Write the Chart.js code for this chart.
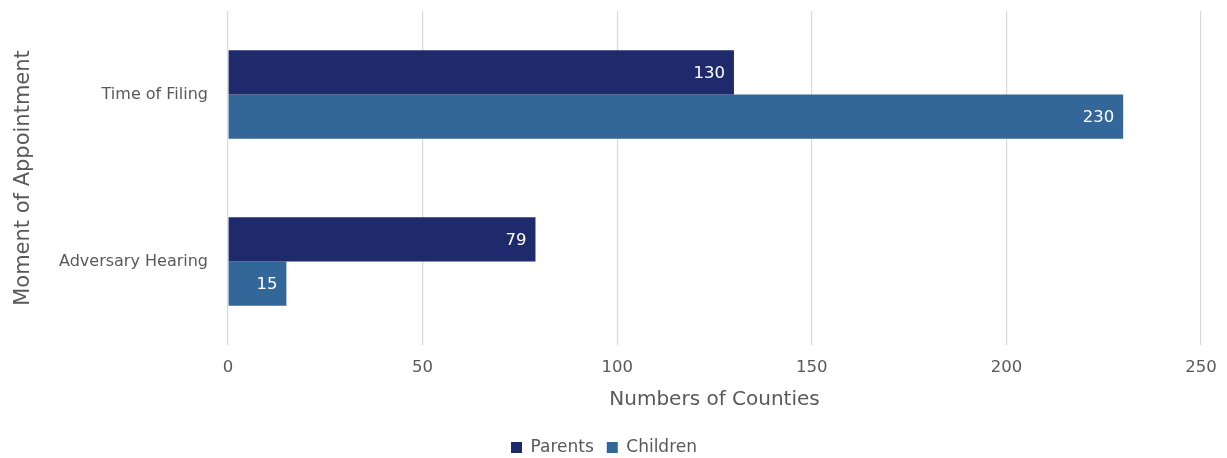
<!DOCTYPE html>
<html>
<head>
<meta charset="utf-8">
<script src="https://cdn.jsdelivr.net/npm/chart.js@4"></script>
<style>
  body { margin: 0; background: #fff; }
  #wrap { width: 1227px; height: 458px; }
</style>
</head>
<body>
<div id="wrap"><canvas id="grafico" width="1227" height="458"></canvas></div>
<script>
// Dados do gráfico
const categorias = ['Time of Filing', 'Adversary Hearing'];
const pais = [130, 79];
const criancas = [230, 15];
const ticksX = [0, 50, 100, 150, 200, 250];

const cinza = '#595959';
const fonte = "'DejaVu Sans', 'Lato', sans-serif";

// Rótulos brancos no fim de cada barra
const rotulos = {
  id: 'rotulos',
  afterDatasetsDraw(chart) {
    const ctx = chart.ctx;
    ctx.save();
    ctx.fillStyle = '#ffffff';
    ctx.font = '16.5px ' + fonte;
    ctx.textAlign = 'right';
    ctx.textBaseline = 'middle';
    chart.data.datasets.forEach((ds, i) => {
      chart.getDatasetMeta(i).data.forEach((bar, j) => {
        ctx.fillText(String(ds.data[j]), bar.x - 9, bar.y + 1);
      });
    });
    ctx.restore();
  }
};

const ctx = document.getElementById('grafico').getContext('2d');
new Chart(ctx, {
  type: 'bar',
  data: {
    labels: categorias,
    datasets: [
      { label: 'Parents', data: pais, backgroundColor: '#1f2a6d' },
      { label: 'Children', data: criancas, backgroundColor: '#336699' }
    ]
  },
  options: {
    indexAxis: 'y',
    responsive: false,
    animation: false,
    datasets: { bar: { categoryPercentage: 0.53, barPercentage: 1.0 } },
    layout: { padding: { top: 11, right: 26, left: 7, bottom: -8 } },
    plugins: {
      legend: {
        position: 'bottom',
        labels: {
          color: cinza,
          font: { family: fonte, size: 17 },
          boxWidth: 11,
          boxHeight: 11,
          padding: 13
        }
      },
      tooltip: { enabled: false }
    },
    scales: {
      x: {
        min: 0,
        max: 250,
        afterBuildTicks: s => { s.ticks = ticksX.map(v => ({ value: v })); },
        afterFit: s => { s.height = 81; s.paddingLeft = 0; s.paddingRight = 0; },
        grid: { color: '#d9d9d9', drawTicks: false, lineWidth: 1.2 },
        border: { display: false },
        ticks: { color: cinza, font: { family: fonte, size: 16.5 }, padding: 13 },
        title: {
          display: true,
          text: 'Numbers of Counties',
          color: cinza,
          font: { family: fonte, size: 20 },
          padding: { top: 2, bottom: 14 }
        }
      },
      y: {
        afterFit: s => { s.width = 221; s.paddingTop = 0; s.paddingBottom = 0; },
        grid: { display: false },
        border: { display: false },
        ticks: { color: cinza, font: { family: fonte, size: 16 }, padding: 12 },
        title: {
          display: true,
          text: 'Moment of Appointment',
          color: cinza,
          font: { family: fonte, size: 21 },
          padding: { bottom: 0 }
        }
      }
    }
  },
  plugins: [rotulos]
});
</script>
</body>
</html>
